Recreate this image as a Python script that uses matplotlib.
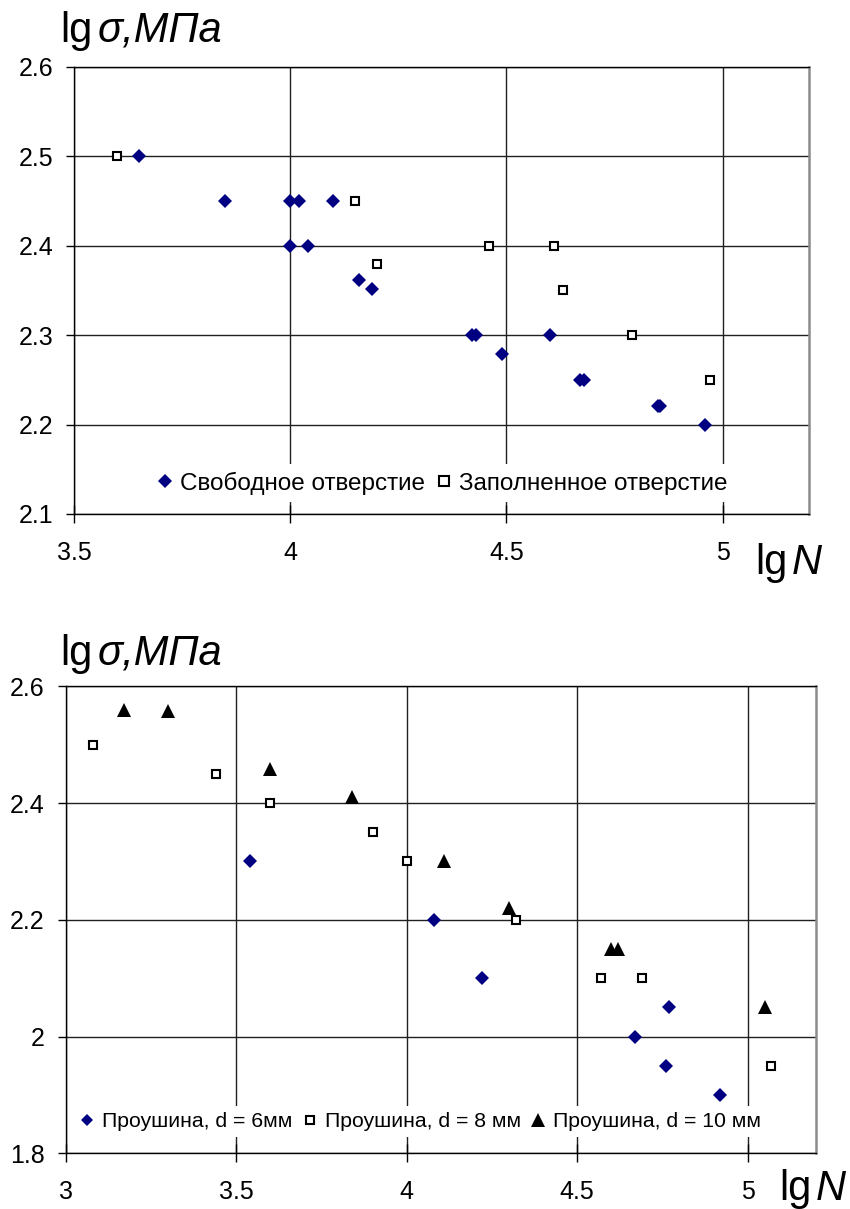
import matplotlib
matplotlib.use("Agg")
import matplotlib.pyplot as plt

plt.rcParams['font.family'] = ['Liberation Sans', 'DejaVu Sans']

# top chart: free hole vs filled hole
free_x = [3.65, 3.85, 4.0, 4.02, 4.1, 4.0, 4.04, 4.16, 4.19,
          4.42, 4.43, 4.49, 4.6, 4.67, 4.68, 4.85, 4.855, 4.96]
free_y = [2.5, 2.45, 2.45, 2.45, 2.45, 2.4, 2.4, 2.362, 2.351,
          2.3, 2.3, 2.279, 2.3, 2.25, 2.25, 2.221, 2.221, 2.2]
filled_x = [3.6, 4.15, 4.2, 4.46, 4.61, 4.63, 4.79, 4.97]
filled_y = [2.5, 2.45, 2.379, 2.4, 2.4, 2.35, 2.3, 2.25]

# bottom chart: lugs with d = 6, 8, 10 mm
d6_x = [3.54, 4.08, 4.22, 4.77, 4.67, 4.76, 4.92]
d6_y = [2.3, 2.2, 2.1, 2.05, 2.0, 1.95, 1.9]
d8_x = [3.08, 3.44, 3.6, 3.9, 4.0, 4.32, 4.57, 4.69, 5.07]
d8_y = [2.5, 2.45, 2.4, 2.35, 2.3, 2.2, 2.1, 2.1, 1.95]
d10_x = [3.17, 3.3, 3.6, 3.84, 4.11, 4.3, 4.6, 4.62, 5.05]
d10_y = [2.56, 2.557, 2.458, 2.41, 2.3, 2.22, 2.15, 2.15, 2.05]

top_xticks = [3.5, 4, 4.5, 5]
top_xlabels = ["3.5", "4", "4.5", "5"]
top_yticks = [2.1, 2.2, 2.3, 2.4, 2.5, 2.6]
top_ylabels = ["2.1", "2.2", "2.3", "2.4", "2.5", "2.6"]
bot_xticks = [3, 3.5, 4, 4.5, 5]
bot_xlabels = ["3", "3.5", "4", "4.5", "5"]
bot_yticks = [1.8, 2.0, 2.2, 2.4, 2.6]
bot_ylabels = ["1.8", "2", "2.2", "2.4", "2.6"]

NAVY = "#000080"

fig = plt.figure(figsize=(8.5, 12.09), dpi=100)
ax1 = fig.add_axes([0.0871, 0.5749, 0.8647, 0.3699])
ax2 = fig.add_axes([0.0773, 0.0461, 0.8824, 0.3862])


def style_axes(ax, xticks, xlabels, yticks, ylabels, xlim, ylim):
    ax.set_xlim(*xlim)
    ax.set_ylim(*ylim)
    ax.set_xticks(xticks)
    ax.set_xticklabels(xlabels)
    ax.set_yticks(yticks)
    ax.set_yticklabels(ylabels)
    ax.set_axisbelow(True)
    ax.grid(True, color="#202020", linewidth=1.0)
    for side in ("left", "bottom", "top"):
        ax.spines[side].set_color("black")
        ax.spines[side].set_linewidth(1.0)
    ax.spines["right"].set_color("#8c8c8c")
    ax.spines["right"].set_linewidth(1.8)
    ax.tick_params(axis="x", direction="inout", length=13, width=1,
                   pad=13, labelsize=18)
    ax.tick_params(axis="y", direction="out", length=6, width=1,
                   pad=9, labelsize=18)


def add_labels(ax, ylab_pos, xlab_pos):
    t1 = fig.text(ylab_pos[0], ylab_pos[1], "lg", fontsize=30,
                  va="baseline", ha="left")
    ax.annotate("σ,МПа", xy=(1, 0), xycoords=t1, fontsize=30,
                fontstyle="italic", va="bottom", ha="left",
                xytext=(4, 0), textcoords="offset points")
    t2 = fig.text(xlab_pos[0], xlab_pos[1], "lg", fontsize=30,
                  va="baseline", ha="left")
    ax.annotate("N", xy=(1, 0), xycoords=t2, fontsize=30,
                fontstyle="italic", va="bottom", ha="left",
                xytext=(3, 0), textcoords="offset points")


# top chart
ax1.plot(free_x, free_y, linestyle="none", marker="D", ms=6.8, mew=0,
         color=NAVY, label="Свободное отверстие")
ax1.plot(filled_x, filled_y, linestyle="none", marker="s", ms=6.3, mew=1.5,
         markerfacecolor="white", markeredgecolor="black",
         label="Заполненное отверстие")
style_axes(ax1, top_xticks, top_xlabels, top_yticks, top_ylabels,
           (3.5, 5.2), (2.1, 2.6))
leg1 = ax1.legend(loc="center", bbox_to_anchor=(0.5, 0.069), ncol=2,
                  fontsize=17.5, frameon=True, framealpha=1, edgecolor="none",
                  fancybox=False, handlelength=0.8, handletextpad=0.2,
                  columnspacing=0.4, borderpad=0.3, markerscale=1.05)
add_labels(ax1, (0.0706, 0.9655), (0.889, 0.5252))

# bottom chart
ax2.plot(d6_x, d6_y, linestyle="none", marker="D", ms=6.8, mew=0,
         color=NAVY, label="Проушина, d = 6мм")
ax2.plot(d8_x, d8_y, linestyle="none", marker="s", ms=6.3, mew=1.5,
         markerfacecolor="white", markeredgecolor="black",
         label="Проушина, d = 8 мм")
ax2.plot(d10_x, d10_y, linestyle="none", marker="^", ms=10, mew=0,
         color="black", label="Проушина, d = 10 мм")
style_axes(ax2, bot_xticks, bot_xlabels, bot_yticks, bot_ylabels,
           (3, 5.2), (1.8, 2.6))
leg2 = ax2.legend(loc="center", bbox_to_anchor=(0.472, 0.068), ncol=3,
                  fontsize=15.3, frameon=True, framealpha=1, edgecolor="none",
                  fancybox=False, handlelength=0.8, handletextpad=0.3,
                  columnspacing=0.4, borderpad=0.3, markerscale=0.95)
add_labels(ax2, (0.0706, 0.450), (0.9165, 0.0074))

fig.savefig("out.png", dpi=100)
